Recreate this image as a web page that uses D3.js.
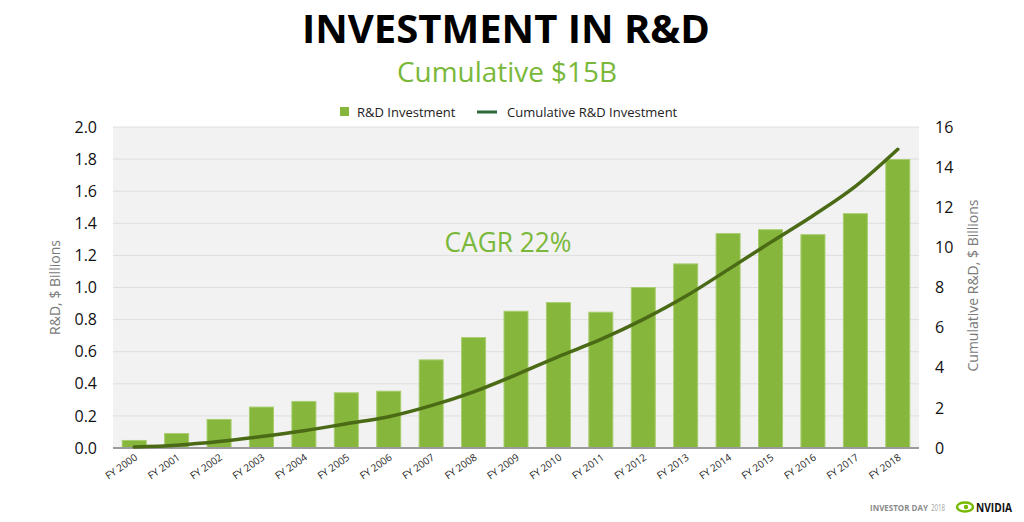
<!DOCTYPE html>
<html>
<head>
<meta charset="utf-8">
<script src="https://cdn.jsdelivr.net/npm/d3@7"></script>
<style>
  html, body { margin: 0; padding: 0; background: #fff; }
  svg { display: block; font-family: "Open Sans", "DejaVu Sans", sans-serif; }
</style>
</head>
<body>
<svg id="chart" width="1024" height="522"></svg>
<script>
// values
const years = ["FY 2000", "FY 2001", "FY 2002", "FY 2003", "FY 2004", "FY 2005", "FY 2006",
    "FY 2007", "FY 2008", "FY 2009", "FY 2010", "FY 2011", "FY 2012", "FY 2013", "FY 2014",
    "FY 2015", "FY 2016", "FY 2017", "FY 2018"]
const rdInvestment = [0.047, 0.090, 0.178, 0.255, 0.290, 0.344, 0.354, 0.549, 0.688, 0.852,
    0.906, 0.846, 1.000, 1.147, 1.336, 1.360, 1.329, 1.460, 1.797]
const cumulative = [0.05, 0.14, 0.32, 0.57, 0.86, 1.21, 1.56, 2.11, 2.80, 3.65,
    4.56, 5.41, 6.41, 7.56, 8.89, 10.25, 11.58, 13.04, 14.89]
const leftTicks = [0, 0.2, 0.4, 0.6, 0.8, 1.0, 1.2, 1.4, 1.6, 1.8, 2.0]
const rightTicks = [0, 2, 4, 6, 8, 10, 12, 14, 16]

const layout = {
    left: 113, right: 919, top: 127, bottom: 448,
    bg: "#f2f2f2",
    grid: "#dedede",
    baseline: "#9b9b9b",
    barFill: "#86b63b",
    barStroke: "#a8cd6e",
    lineStroke: "#4a6a16",
    legendLine: "#2f6a3c",
    green: "#7ab83a",
    axisTitle: "#7a7a7a",
    tickText: "#111"
}

const svg = d3.select("#chart")

const x = d3.scaleBand()
    .domain(years)
    .range([layout.left, layout.right])
    .paddingInner(0.434)
    .paddingOuter(0.217)

const yLeft = d3.scaleLinear().domain([0, 2]).range([layout.bottom, layout.top])
const yRight = d3.scaleLinear().domain([0, 16]).range([layout.bottom, layout.top])

// title
svg.append("text")
    .attr("x", 506).attr("y", 43)
    .attr("text-anchor", "middle")
    .attr("font-size", 40).attr("font-weight", "bold")
    .attr("fill", "#000")
    .attr("textLength", 408).attr("lengthAdjust", "spacingAndGlyphs")
    .text("INVESTMENT IN R&D")

svg.append("text")
    .attr("x", 507).attr("y", 82)
    .attr("text-anchor", "middle")
    .attr("font-size", 27)
    .attr("fill", layout.green)
    .attr("textLength", 220).attr("lengthAdjust", "spacingAndGlyphs")
    .text("Cumulative $15B")

// legend
const legend = svg.append("g").attr("font-size", 13).attr("fill", "#222")
legend.append("rect")
    .attr("x", 340).attr("y", 107).attr("width", 9).attr("height", 9)
    .attr("fill", layout.barFill)
legend.append("text").attr("x", 357).attr("y", 116.5).text("R&D Investment")
legend.append("line")
    .attr("x1", 477).attr("x2", 497).attr("y1", 112).attr("y2", 112)
    .attr("stroke", layout.legendLine).attr("stroke-width", 3)
legend.append("text").attr("x", 507).attr("y", 116.5).text("Cumulative R&D Investment")

// plot background and grid
svg.append("rect")
    .attr("x", layout.left).attr("y", layout.top)
    .attr("width", layout.right - layout.left)
    .attr("height", layout.bottom - layout.top)
    .attr("fill", layout.bg)

svg.append("g")
    .selectAll("line")
    .data(leftTicks.filter(d => d > 0))
    .join("line")
    .attr("x1", layout.left).attr("x2", layout.right)
    .attr("y1", d => yLeft(d)).attr("y2", d => yLeft(d))
    .attr("stroke", layout.grid).attr("stroke-width", 1)

// bars
svg.append("g")
    .selectAll("rect")
    .data(years)
    .join("rect")
    .attr("x", d => x(d))
    .attr("width", x.bandwidth())
    .attr("y", (d, i) => yLeft(rdInvestment[i]))
    .attr("height", (d, i) => yLeft(0) - yLeft(rdInvestment[i]))
    .attr("fill", layout.barFill)
    .attr("stroke", layout.barStroke)
    .attr("stroke-width", 1)

// baseline
svg.append("line")
    .attr("x1", layout.left).attr("x2", layout.right)
    .attr("y1", yLeft(0)).attr("y2", yLeft(0))
    .attr("stroke", layout.baseline).attr("stroke-width", 2)

// cumulative line
const line = d3.line()
    .x((d, i) => x(years[i]) + x.bandwidth() / 2)
    .y(d => yRight(d))
    .curve(d3.curveMonotoneX)

svg.append("path")
    .datum(cumulative)
    .attr("d", line)
    .attr("fill", "none")
    .attr("stroke", layout.lineStroke)
    .attr("stroke-width", 3.5)
    .attr("stroke-linecap", "round")

// left axis labels
const leftAxis = svg.append("g")
    .attr("transform", `translate(${layout.left - 16},0)`)
    .call(d3.axisLeft(yLeft).tickValues(leftTicks).tickFormat(d3.format(".1f")).tickSize(0).tickPadding(0))
leftAxis.select(".domain").remove()
leftAxis.selectAll("text")
    .attr("font-size", 16).attr("fill", layout.tickText)
    .attr("font-family", "Open Sans, DejaVu Sans, sans-serif")

// right axis labels
const rightAxis = svg.append("g")
    .attr("transform", `translate(${layout.right + 16},0)`)
    .call(d3.axisRight(yRight).tickValues(rightTicks).tickFormat(d3.format("d")).tickSize(0).tickPadding(0))
rightAxis.select(".domain").remove()
rightAxis.selectAll("text")
    .attr("font-size", 16).attr("fill", layout.tickText)
    .attr("font-family", "Open Sans, DejaVu Sans, sans-serif")

// x labels
svg.append("g")
    .selectAll("text")
    .data(years)
    .join("text")
    .attr("transform", d => `translate(${x(d) + x.bandwidth() / 2 + 4},${layout.bottom + 11}) rotate(-35)`)
    .attr("text-anchor", "end")
    .attr("font-size", 10)
    .attr("fill", "#222")
    .text(d => d)

// axis titles
const midY = (layout.top + layout.bottom) / 2
svg.append("text")
    .attr("transform", `translate(60,${midY}) rotate(-90)`)
    .attr("text-anchor", "middle")
    .attr("font-size", 14).attr("fill", layout.axisTitle)
    .text("R&D, $ Billions")

svg.append("text")
    .attr("transform", `translate(978,${midY - 2}) rotate(-90)`)
    .attr("text-anchor", "middle")
    .attr("font-size", 14).attr("fill", layout.axisTitle)
    .text("Cumulative R&D, $ Billions")

// annotation
svg.append("text")
    .attr("x", 508).attr("y", 252)
    .attr("text-anchor", "middle")
    .attr("font-size", 28)
    .attr("fill", layout.green)
    .attr("textLength", 127).attr("lengthAdjust", "spacingAndGlyphs")
    .text("CAGR 22%")

// footer
svg.append("text")
    .attr("x", 870).attr("y", 511)
    .attr("font-size", 8.5).attr("font-weight", "bold").attr("fill", "#8a8a8a")
    .attr("textLength", 58).attr("lengthAdjust", "spacingAndGlyphs")
    .text("INVESTOR DAY")
svg.append("text")
    .attr("x", 931).attr("y", 511)
    .attr("font-size", 8.5).attr("fill", "#a0a0a0")
    .attr("textLength", 14).attr("lengthAdjust", "spacingAndGlyphs")
    .text("2018")

const logo = svg.append("g").attr("transform", "translate(957,507)")
logo.append("ellipse")
    .attr("cx", 8).attr("cy", 0).attr("rx", 8).attr("ry", 4.5)
    .attr("fill", "none").attr("stroke", "#76b900").attr("stroke-width", 2.4)
logo.append("circle")
    .attr("cx", 9).attr("cy", 0).attr("r", 2.2)
    .attr("fill", "#76b900")
svg.append("text")
    .attr("x", 976).attr("y", 511.5)
    .attr("font-size", 12).attr("font-weight", "bold").attr("fill", "#111")
    .attr("textLength", 36).attr("lengthAdjust", "spacingAndGlyphs")
    .text("NVIDIA")
</script>
</body>
</html>
